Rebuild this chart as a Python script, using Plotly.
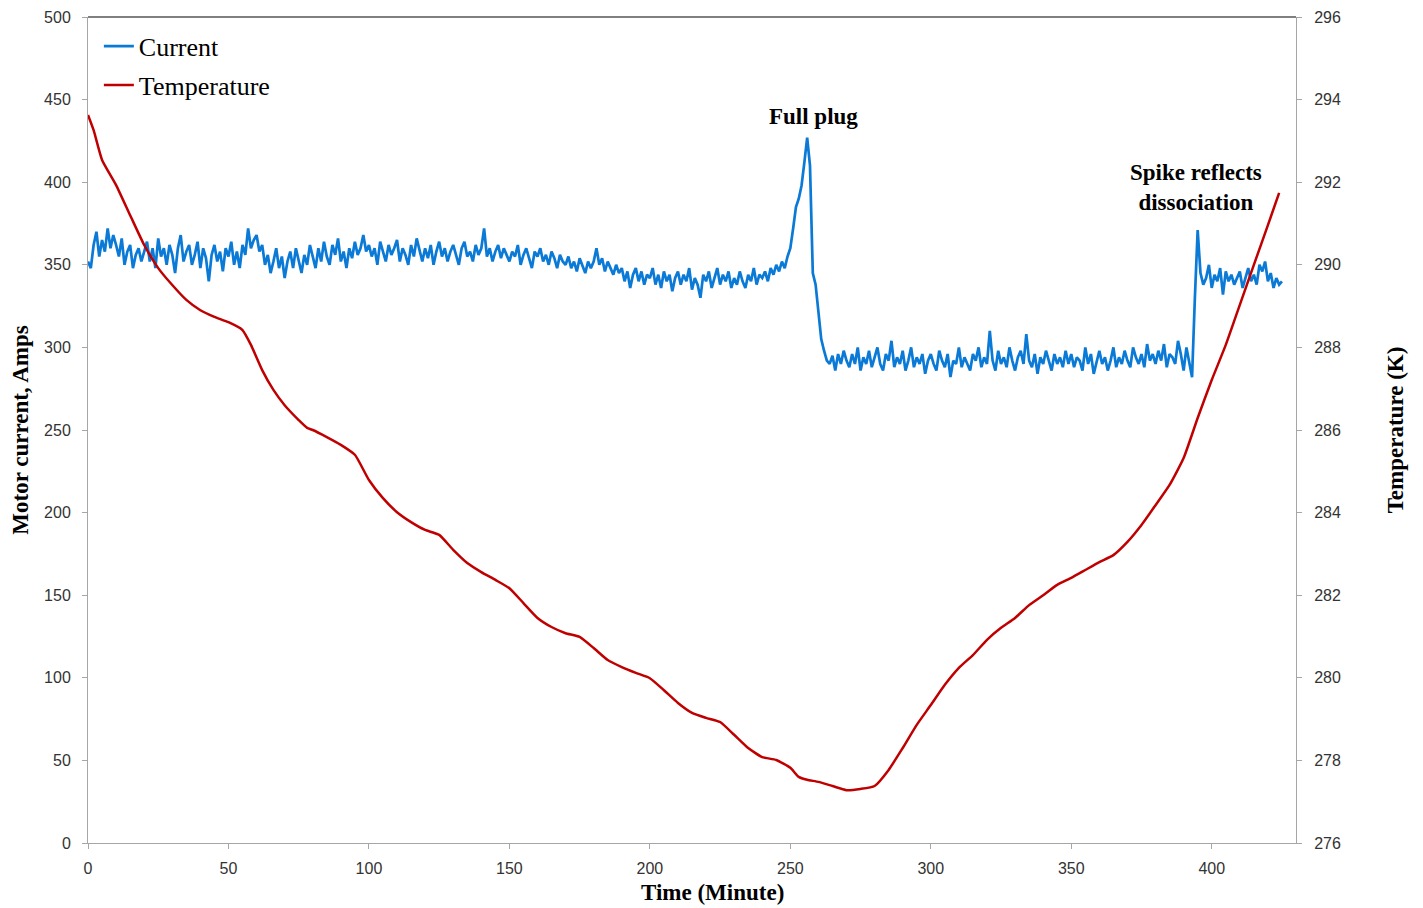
import plotly.graph_objects as go

# ---------------- data ----------------
current_start_minute = 0  # one reading per minute
current_amps = [
    352, 348, 362, 370, 355, 365, 358, 372, 360, 368,
    362, 355, 366, 350, 358, 362, 348, 356, 360, 352,
    358, 364, 352, 360, 348, 366, 355, 360, 350, 362,
    356, 345, 360, 368, 352, 358, 362, 350, 356, 364,
    348, 360, 354, 340, 356, 362, 352, 358, 346, 360,
    355, 364, 350, 358, 348, 362, 356, 372, 360, 365,
    368, 358, 362, 350, 356, 345, 352, 360, 348, 355,
    342, 352, 358, 348, 360, 352, 345, 356, 350, 362,
    354, 348, 360, 352, 364, 355, 350, 362, 356, 366,
    352, 358, 348, 360, 354, 364, 356, 360, 368, 358,
    362, 355, 360, 350, 364, 358, 352, 362, 356, 360,
    365, 352, 360, 356, 350, 362, 355, 366, 358, 352,
    360, 354, 362, 350, 358, 364, 355, 360, 352, 358,
    362, 356, 350, 360, 364, 355, 358, 352, 362, 356,
    360, 372, 355, 360, 352, 358, 362, 354, 360, 356,
    352, 358, 355, 362, 350, 356, 360, 354, 348, 358,
    355, 360, 352, 356, 350, 358, 354, 348, 356, 352,
    350, 355, 348, 352, 346, 354, 350, 345, 352, 348,
    352, 360, 350, 354, 346, 352, 348, 344, 350, 345,
    348, 340, 346, 336, 344, 348, 340, 346, 338, 344,
    342, 348, 338, 344, 336, 346, 340, 344, 334, 342,
    346, 338, 344, 340, 348, 335, 342, 338, 330, 344,
    340, 346, 336, 342, 348, 338, 344, 340, 346, 336,
    342, 338, 346, 340, 336, 344, 340, 348, 338, 344,
    342, 346, 340, 348, 344, 350, 346, 352, 348, 355,
    360, 372, 385, 390, 398, 412, 427, 410, 345, 338,
    322, 305, 298, 292, 290, 295, 286, 296, 290, 298,
    292, 288, 296, 290, 300, 286, 294, 290, 298, 288,
    294, 300, 290, 286, 296, 292, 304, 288, 294, 290,
    298, 286, 292, 300, 288, 294, 290, 296, 284, 292,
    296, 290, 286, 298, 292, 288, 296, 282, 292, 290,
    300, 288, 294, 290, 286, 296, 292, 300, 288, 294,
    290, 310, 292, 286, 298, 290, 294, 288, 300, 292,
    286, 294, 298, 290, 308, 292, 288, 296, 284, 294,
    290, 298, 292, 286, 296, 290, 294, 288, 298, 290,
    296, 288, 294, 292, 286, 300, 290, 296, 284, 292,
    298, 290, 294, 286, 292, 300, 288, 294, 290, 298,
    292, 288, 300, 294, 290, 296, 288, 302, 292, 296,
    290, 298, 292, 302, 288, 296, 294, 290, 304, 296,
    286, 300, 292, 282, 330, 371, 345, 338, 342, 350,
    336, 344, 340, 348, 332, 346, 340, 344, 338, 342,
    346, 336, 342, 348, 340, 344, 338, 350, 346, 352,
    340, 345, 336, 342, 338, 340,
]
current_minutes = list(range(current_start_minute, current_start_minute + len(current_amps)))

temp_minutes = [0, 2, 5, 10, 15, 20, 25, 30, 35, 40, 45, 50, 55, 58, 62, 66, 70, 75,
                78, 80, 85, 90, 95, 100, 105, 110, 115, 120, 125, 130, 135, 140, 145,
                150, 155, 160, 165, 170, 175, 180, 185, 190, 195, 200, 205, 210, 215,
                220, 225, 230, 235, 240, 245, 250, 253, 256, 260, 265, 270, 275, 280,
                285, 290, 295, 300, 305, 310, 315, 320, 325, 330, 335, 340, 345, 350,
                355, 360, 365, 370, 375, 380, 385, 390, 395, 400, 405, 410, 415, 420, 424]
temp_kelvin = [293.63, 293.26, 292.54, 291.93, 291.20, 290.48, 289.92, 289.51, 289.15,
               288.90, 288.74, 288.61, 288.42, 288.06, 287.45, 286.97, 286.60, 286.24,
               286.05, 286.00, 285.83, 285.64, 285.40, 284.79, 284.35, 284.01, 283.77,
               283.58, 283.46, 283.10, 282.78, 282.56, 282.37, 282.17, 281.81, 281.45,
               281.23, 281.08, 280.99, 280.72, 280.43, 280.26, 280.12, 279.99, 279.70,
               279.39, 279.15, 279.03, 278.93, 278.62, 278.30, 278.08, 278.01, 277.82,
               277.60, 277.53, 277.48, 277.38, 277.28, 277.31, 277.38, 277.77, 278.30,
               278.86, 279.34, 279.83, 280.24, 280.55, 280.92, 281.21, 281.45, 281.76,
               282.00, 282.25, 282.42, 282.61, 282.80, 282.97, 283.29, 283.70, 284.18,
               284.67, 285.32, 286.29, 287.21, 288.06, 289.03, 290.00, 290.96, 291.74]

x_ticks = [0, 50, 100, 150, 200, 250, 300, 350, 400]
annotations_text = ["<b>Full plug</b>", "<b>Spike reflects<br>dissociation</b>"]
annotations_x = [258.4, 394.5]
annotations_y = [439.5, 397]

# ---------------- figure ----------------
SERIF = "Liberation Serif, Times New Roman, serif"
SANS = "Liberation Sans, Arial, sans-serif"
GRAY = "#A6A6A6"

fig = go.Figure()
fig.add_trace(go.Scatter(x=current_minutes, y=current_amps, name="Current",
                         legendgroup="cur",
                         mode="lines", line=dict(color="#0A7AD6", width=2.7)))
fig.add_trace(go.Scatter(x=temp_minutes, y=temp_kelvin, name="Temperature",
                         legendgroup="tmp",
                         mode="lines", yaxis="y2",
                         line=dict(color="#C00000", width=2.5, shape="spline", smoothing=0.5)))

for t, ax, ay in zip(annotations_text, annotations_x, annotations_y):
    fig.add_annotation(x=ax, y=ay, text=t, showarrow=False,
                       font=dict(family=SERIF, size=23, color="black"))

# x-axis title (placed slightly right of centre, as in the source)
fig.add_annotation(xref="paper", yref="paper", x=0.5166, y=0, yshift=-49,
                   yanchor="middle", text="<b>Time (Minute)</b>", showarrow=False,
                   font=dict(family=SERIF, size=23, color="black"))

fig.add_shape(type="line", xref="paper", yref="paper", x0=0, x1=1, y0=1, y1=1,
              line=dict(color="black", width=1))

fig.update_layout(
    width=1423, height=908,
    margin=dict(l=80, r=135, t=9, b=73, autoexpand=False),
    paper_bgcolor="white", plot_bgcolor="white",
    showlegend=True,
    legend=dict(x=0.009, y=0.993, xanchor="left", yanchor="top",
                font=dict(family=SERIF, size=26, color="black"),
                bgcolor="rgba(0,0,0,0)", tracegroupgap=2, itemwidth=30),
    xaxis=dict(range=[0, 430], tickvals=x_ticks, showgrid=False, zeroline=False,
               automargin=False,
               showline=True, linecolor=GRAY, linewidth=1,
               ticks="outside", ticklen=5, tickcolor=GRAY, ticklabelstandoff=6,
               tickfont=dict(family=SANS, size=16, color="#333333")),
    yaxis=dict(range=[0, 500], dtick=50, showgrid=False, zeroline=False,
               automargin=False,
               showline=True, linecolor=GRAY, linewidth=1,
               ticks="outside", ticklen=5, tickcolor=GRAY, ticklabelstandoff=8,
               tickfont=dict(family=SANS, size=16, color="#333333"),
               title=dict(text="<b>Motor current, Amps</b>", standoff=10,
                          font=dict(family=SERIF, size=23, color="black"))),
    yaxis2=dict(range=[276, 296], dtick=2, overlaying="y", side="right",
                automargin=False,
                showgrid=False, zeroline=False,
                showline=True, linecolor=GRAY, linewidth=1,
                ticks="outside", ticklen=5, tickcolor=GRAY, ticklabelstandoff=9,
                tickfont=dict(family=SANS, size=16, color="#333333"),
                title=dict(text="<b>Temperature (K)</b>", standoff=46,
                           font=dict(family=SERIF, size=23, color="black"))),
)

fig.write_html("out.html")
